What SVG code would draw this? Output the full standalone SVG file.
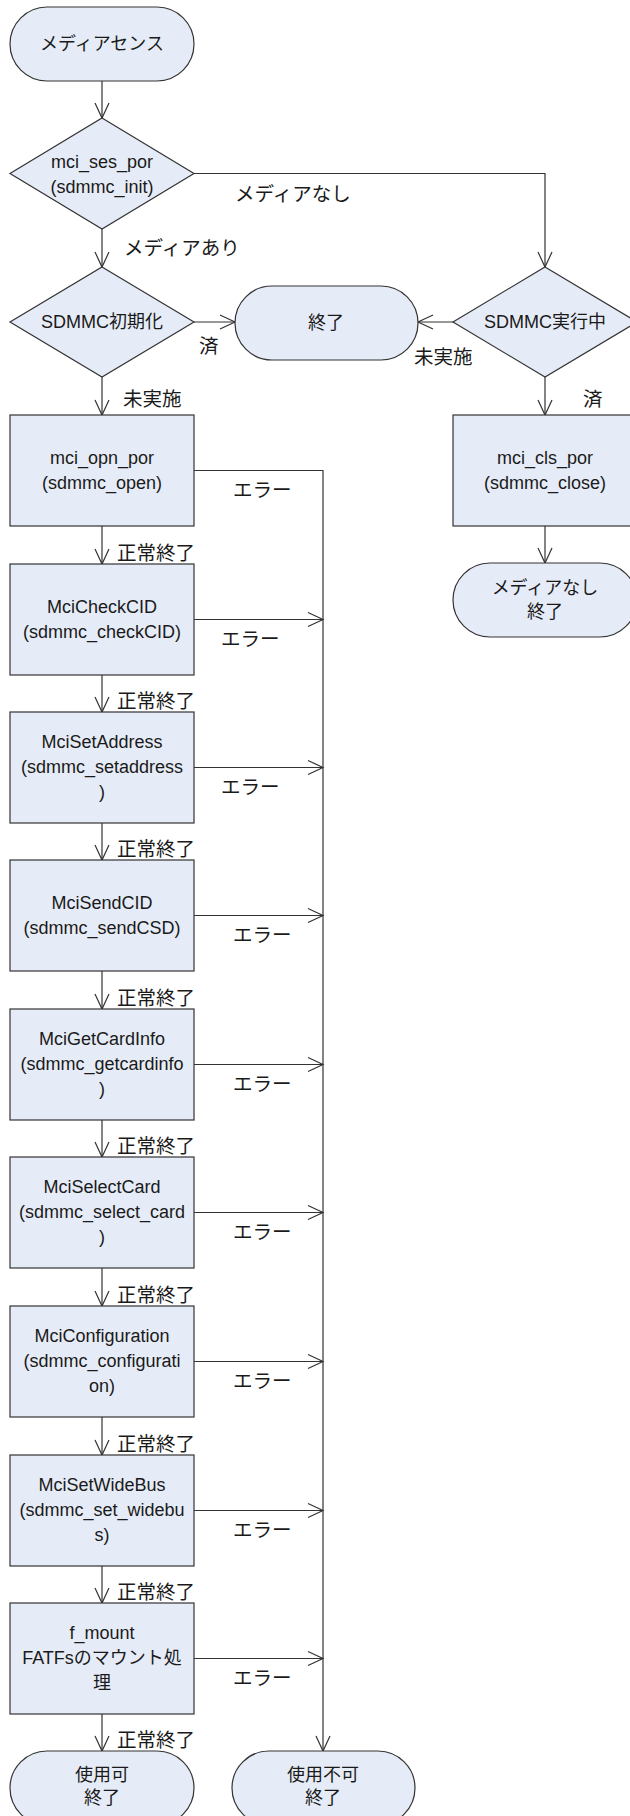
<svg xmlns="http://www.w3.org/2000/svg" width="630" height="1816" viewBox="0 0 630 1816">
<style>
.n{fill:#E6ECF7;stroke:#333;stroke-width:1.2}
.t{font-family:"Liberation Sans","Noto Sans CJK JP",sans-serif;font-size:18px;fill:#1a1a1a;text-anchor:middle;dominant-baseline:central}
.l{font-family:"Noto Sans CJK JP","Liberation Sans",sans-serif;font-size:19.5px;fill:#1a1a1a;dominant-baseline:central}
.c{fill:none;stroke:#333;stroke-width:1.2}
</style>
<defs>
<marker id="a" markerUnits="userSpaceOnUse" markerWidth="17" markerHeight="16" refX="15" refY="7" orient="auto" overflow="visible">
<path d="M0,0 L15,7 L0,14" fill="none" stroke="#333" stroke-width="1.2"/>
</marker>
</defs>
<rect width="630" height="1816" fill="#fff"/>

<g id="connectors">
<path class="c" d="M102,81 V118" marker-end="url(#a)"/>
<path class="c" d="M194,173.5 H545 V267" marker-end="url(#a)"/>
<path class="c" d="M102,229 V267" marker-end="url(#a)"/>
<path class="c" d="M194,322 H235" marker-end="url(#a)"/>
<path class="c" d="M453,322 H418" marker-end="url(#a)"/>
<path class="c" d="M102,377 V415" marker-end="url(#a)"/>
<path class="c" d="M545,377 V415" marker-end="url(#a)"/>
<path class="c" d="M545,526 V563" marker-end="url(#a)"/>
<path class="c" d="M102,526 V564" marker-end="url(#a)"/>
<path class="c" d="M102,675 V712" marker-end="url(#a)"/>
<path class="c" d="M102,823 V860" marker-end="url(#a)"/>
<path class="c" d="M102,971 V1009" marker-end="url(#a)"/>
<path class="c" d="M102,1120 V1157" marker-end="url(#a)"/>
<path class="c" d="M102,1268 V1306" marker-end="url(#a)"/>
<path class="c" d="M102,1417 V1455" marker-end="url(#a)"/>
<path class="c" d="M102,1566 V1603" marker-end="url(#a)"/>
<path class="c" d="M102,1714 V1751" marker-end="url(#a)"/>
<path class="c" d="M194,470.5 H323 V1751" marker-end="url(#a)"/>
<path class="c" d="M194,619.5 H323" marker-end="url(#a)"/>
<path class="c" d="M194,767.5 H323" marker-end="url(#a)"/>
<path class="c" d="M194,915.5 H323" marker-end="url(#a)"/>
<path class="c" d="M194,1064.5 H323" marker-end="url(#a)"/>
<path class="c" d="M194,1212.5 H323" marker-end="url(#a)"/>
<path class="c" d="M194,1361.5 H323" marker-end="url(#a)"/>
<path class="c" d="M194,1510.5 H323" marker-end="url(#a)"/>
<path class="c" d="M194,1658.5 H323" marker-end="url(#a)"/>
<text class="l" x="235" y="192">メディアなし</text>
<text class="l" x="124" y="246">メディアあり</text>
<text class="l" x="199" y="344">済</text>
<text class="l" x="414" y="355">未実施</text>
<text class="l" x="123" y="397">未実施</text>
<text class="l" x="583" y="397">済</text>
<text class="l" x="233" y="488">エラー</text>
<text class="l" x="221" y="637">エラー</text>
<text class="l" x="221" y="785">エラー</text>
<text class="l" x="233" y="933">エラー</text>
<text class="l" x="233" y="1082">エラー</text>
<text class="l" x="233" y="1230">エラー</text>
<text class="l" x="233" y="1379">エラー</text>
<text class="l" x="233" y="1528">エラー</text>
<text class="l" x="233" y="1676">エラー</text>
<text class="l" x="117" y="551">正常終了</text>
<text class="l" x="117" y="699">正常終了</text>
<text class="l" x="117" y="847">正常終了</text>
<text class="l" x="117" y="996">正常終了</text>
<text class="l" x="117" y="1144">正常終了</text>
<text class="l" x="117" y="1293">正常終了</text>
<text class="l" x="117" y="1442">正常終了</text>
<text class="l" x="117" y="1590">正常終了</text>
<text class="l" x="117" y="1738">正常終了</text>
</g>

<g id="start"><rect class="n" x="10" y="7" width="184" height="74" rx="37"/><text class="t" x="102" y="44">メディアセンス</text></g>
<g id="ses"><polygon class="n" points="102,118 194,173.5 102,229 10,173.5"/><text class="t" x="102" y="162">mci_ses_por</text><text class="t" x="102" y="187">(sdmmc_init)</text></g>
<g id="init"><polygon class="n" points="102,267 194,322 102,377 10,322"/><text class="t" x="102" y="322" font-size="19">SDMMC初期化</text></g>
<g id="end"><rect class="n" x="235" y="286" width="183" height="74" rx="37"/><text class="t" x="326" y="323" font-size="19">終了</text></g>
<g id="running"><polygon class="n" points="545,267 637,322 545,377 453,322"/><text class="t" x="545" y="322" font-size="19">SDMMC実行中</text></g>
<g id="cls"><rect class="n" x="453" y="415" width="184" height="111"/><text class="t" x="545" y="458">mci_cls_por</text><text class="t" x="545" y="483">(sdmmc_close)</text></g>
<g id="nomedia"><rect class="n" x="453" y="563" width="184" height="74" rx="37"/><text class="t" x="545" y="588">メディアなし</text><text class="t" x="545" y="612">終了</text></g>

<g id="opn"><rect class="n" x="10" y="415" width="184" height="111"/><text class="t" x="102" y="458">mci_opn_por</text><text class="t" x="102" y="483">(sdmmc_open)</text></g>
<g id="checkcid"><rect class="n" x="10" y="564" width="184" height="111"/><text class="t" x="102" y="607">MciCheckCID</text><text class="t" x="102" y="632">(sdmmc_checkCID)</text></g>
<g id="setaddress"><rect class="n" x="10" y="712" width="184" height="111"/><text class="t" x="102" y="742">MciSetAddress</text><text class="t" x="102" y="767">(sdmmc_setaddress</text><text class="t" x="102" y="792">)</text></g>
<g id="sendcid"><rect class="n" x="10" y="860" width="184" height="111"/><text class="t" x="102" y="903">MciSendCID</text><text class="t" x="102" y="928">(sdmmc_sendCSD)</text></g>
<g id="getcardinfo"><rect class="n" x="10" y="1009" width="184" height="111"/><text class="t" x="102" y="1039">MciGetCardInfo</text><text class="t" x="102" y="1064">(sdmmc_getcardinfo</text><text class="t" x="102" y="1089">)</text></g>
<g id="selectcard"><rect class="n" x="10" y="1157" width="184" height="111"/><text class="t" x="102" y="1187">MciSelectCard</text><text class="t" x="102" y="1212">(sdmmc_select_card</text><text class="t" x="102" y="1237">)</text></g>
<g id="configuration"><rect class="n" x="10" y="1306" width="184" height="111"/><text class="t" x="102" y="1336">MciConfiguration</text><text class="t" x="102" y="1361">(sdmmc_configurati</text><text class="t" x="102" y="1386">on)</text></g>
<g id="widebus"><rect class="n" x="10" y="1455" width="184" height="111"/><text class="t" x="102" y="1485">MciSetWideBus</text><text class="t" x="102" y="1510">(sdmmc_set_widebu</text><text class="t" x="102" y="1535">s)</text></g>
<g id="fmount"><rect class="n" x="10" y="1603" width="184" height="111"/><text class="t" x="102" y="1633">f_mount</text><text class="t" x="102" y="1658" font-size="17">FATFsのマウント処</text><text class="t" x="102" y="1683">理</text></g>
<g id="ok"><rect class="n" x="10" y="1751" width="184" height="74" rx="37"/><text class="t" x="102" y="1775">使用可</text><text class="t" x="102" y="1798">終了</text></g>
<g id="ng"><rect class="n" x="232" y="1751" width="183" height="74" rx="37"/><text class="t" x="323" y="1775">使用不可</text><text class="t" x="323" y="1798">終了</text></g>
</svg>
